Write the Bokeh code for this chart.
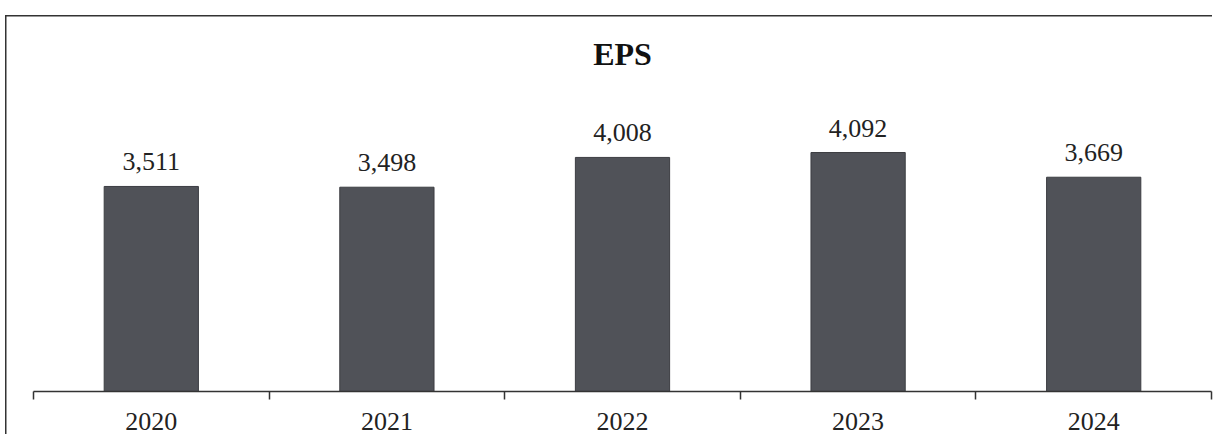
from bokeh.plotting import figure
from bokeh.models import (ColumnDataSource, LabelSet, LinearAxis, Range1d, FixedTicker)
from bokeh.embed import file_html
from bokeh.resources import INLINE

# ---- data ----
years = ["2020", "2021", "2022", "2023", "2024"]
eps = [3511, 3498, 4008, 4092, 3669]
eps_labels = ["3,511", "3,498", "4,008", "4,092", "3,669"]
title_text = "EPS"

# category slots: one unit per year, label at the middle, ticks on the edges
slot_centers = [i + 0.5 for i in range(len(years))]
slot_edges = [float(i) for i in range(len(years) + 1)]

src = ColumnDataSource(dict(x=slot_centers, year=years, eps=eps, label=eps_labels))

SERIF = "Liberation Serif"
INK = "#333333"

p = figure(x_range=Range1d(0, len(years)), y_range=Range1d(0, 5000),
           width=1216, height=434,
           output_backend="svg", toolbar_location=None,
           title=title_text,
           x_axis_location=None, y_axis_location=None,
           min_border_left=33, min_border_right=5,
           min_border_top=99, min_border_bottom=43)

p.xgrid.visible = False
p.ygrid.visible = False
p.outline_line_color = None
p.border_fill_color = None
p.background_fill_color = None

p.title.align = "center"
p.title.text_font = SERIF
p.title.text_font_size = "32px"
p.title.text_font_style = "bold"
p.title.text_color = "#111111"
p.title.standoff = 55

p.vbar(x="x", top="eps", width=0.4, source=src,
       fill_color="#505258", line_color="#3c3d42", line_width=1)

labels = LabelSet(x="x", y="eps", text="label", source=src,
                  text_align="center", text_baseline="alphabetic",
                  y_offset=16, text_font=SERIF, text_font_size="26px",
                  text_color="#222222")
p.add_layout(labels)

xaxis = LinearAxis(ticker=FixedTicker(ticks=slot_centers, minor_ticks=slot_edges),
                   major_label_overrides={c: y for c, y in zip(slot_centers, years)},
                   major_tick_line_color=None, major_tick_out=0, major_tick_in=0,
                   minor_tick_out=8, minor_tick_in=0,
                   minor_tick_line_color=INK, minor_tick_line_width=1.5,
                   axis_line_color=INK, axis_line_width=1.5,
                   major_label_text_font=SERIF,
                   major_label_text_font_size="26px",
                   major_label_text_color="#222222",
                   major_label_standoff=13)
p.add_layout(xaxis, "below")

# chart-area frame line along the top and left, inset from the edges
p.styles = {
    "background-color": "#ffffff",
    "box-shadow": ("inset -4px 0 0 0 #ffffff, "
                   "inset 0 15px 0 0 #ffffff, inset 5px 0 0 0 #ffffff, "
                   "inset 0 16.5px 0 0 #333333, inset 6.5px 0 0 0 #333333"),
}

open("out.html", "w").write(file_html(p, INLINE))
